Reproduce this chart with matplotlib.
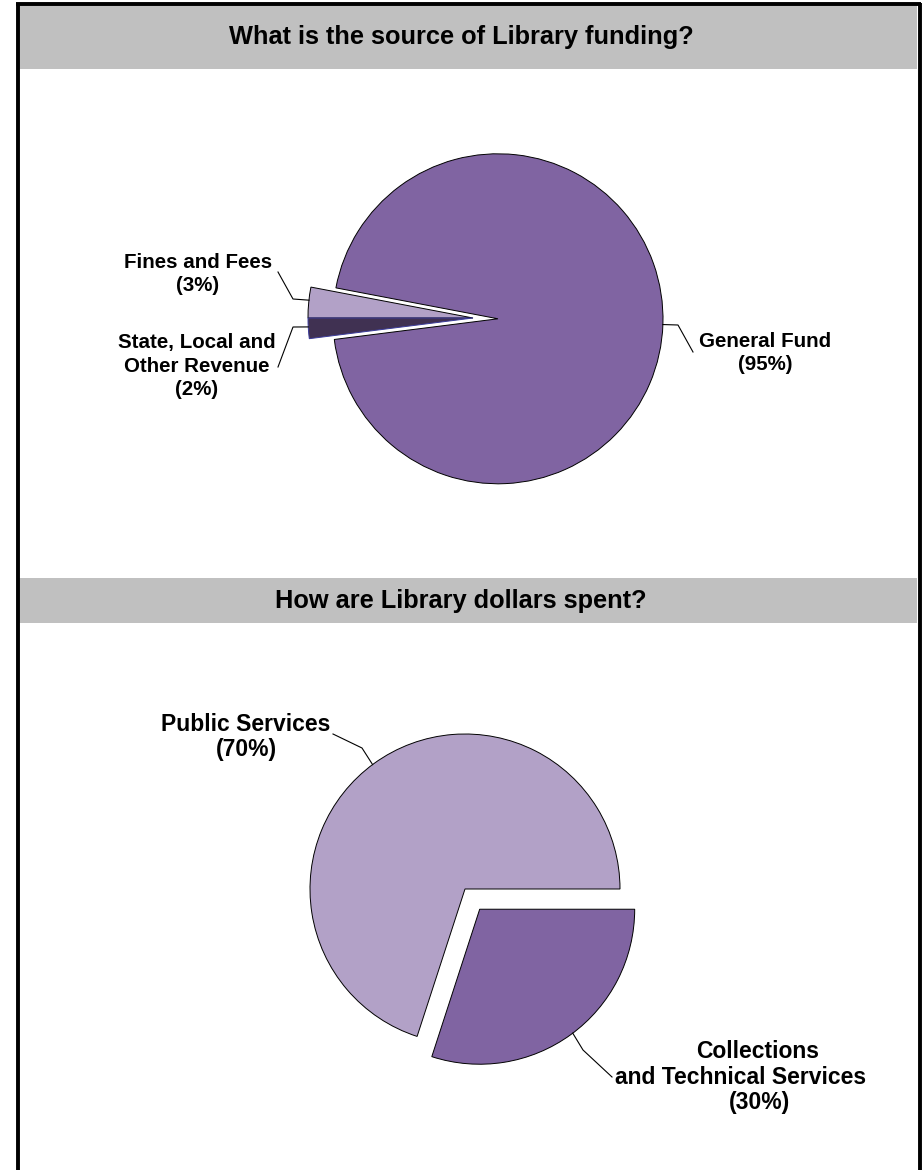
import matplotlib
matplotlib.use("Agg")
import matplotlib.pyplot as plt
import matplotlib.patches as mpatches
import numpy as np

plt.rcParams["font.family"] = ["Liberation Sans", "DejaVu Sans"]
plt.rcParams["font.weight"] = "bold"

PURPLE, LAVENDER, DARK, GREY = "#8064A2", "#B2A1C7", "#403152", "#C0C0C0"

# ---- data -------------------------------------------------------------
fund_labels = ["Fines and Fees", "State, Local and\nOther Revenue", "General Fund"]
fund_pct = [3, 2, 95]
fund_colors = [LAVENDER, DARK, PURPLE]

spend_labels = ["Public Services", "Collections\nand Technical Services"]
spend_pct = [70, 30]
spend_colors = [LAVENDER, PURPLE]

W, H = 923, 1170
fig = plt.figure(figsize=(W / 100, H / 100), dpi=100)
ax = fig.add_axes([0, 0, 1, 1])


def Y(y):  # image row -> data y
    return H - y


# ---- frame + header bands ---------------------------------------------
ax.add_patch(mpatches.Rectangle((19, Y(69)), 898, 64, facecolor=GREY, edgecolor="none"))
ax.add_patch(mpatches.Rectangle((19, Y(623)), 898, 45, facecolor=GREY, edgecolor="none"))
ax.plot([17.5, 17.5], [Y(3), 0], color="black", lw=2.8, solid_capstyle="butt")
ax.plot([919.5, 919.5], [Y(3), 0], color="black", lw=2.8, solid_capstyle="butt")
ax.plot([16, 921], [Y(3.5), Y(3.5)], color="black", lw=2.8, solid_capstyle="butt")

ax.text(461, Y(37), "What is the source of Library funding?", ha="center", va="center",
        fontsize=18.3, fontweight="bold")
ax.text(461, Y(601), "How are Library dollars spent?", ha="center", va="center",
        fontsize=18.3, fontweight="bold")

# ---- pie 1: funding ---------------------------------------------------
w1, _ = ax.pie(fund_pct, colors=fund_colors, startangle=169.2, counterclock=True,
               radius=165, center=(473, Y(318)), explode=[0, 0, 25],
               wedgeprops=dict(edgecolor="black", linewidth=0.7))
w1[1].set_edgecolor("#3b3b9a")


def leader(wedge, ang, elbow, end):
    cx, cy = wedge.center
    r = wedge.r
    a = np.deg2rad(ang)
    p0 = (cx + r * np.cos(a), cy + r * np.sin(a))
    ax.plot([p0[0], elbow[0], end[0]], [p0[1], Y(elbow[1]), Y(end[1])],
            color="black", lw=0.8)


leader(w1[2], -2.0, (678, 325), (693, 352))
ax.text(765, Y(353), f"{fund_labels[2]}\n({fund_pct[2]}%)", ha="center", va="center",
        fontsize=14.8, linespacing=1.3)
leader(w1[0], 173.8, (293, 299), (278, 272))
ax.text(198, Y(274), f"{fund_labels[0]}\n({fund_pct[0]}%)", ha="center", va="center",
        fontsize=14.8, linespacing=1.3)
leader(w1[1], 183.1, (293, 327), (278, 367))
ax.text(197, Y(366), f"{fund_labels[1]}\n({fund_pct[1]}%)", ha="center", va="center",
        fontsize=14.8, linespacing=1.3)

# ---- pie 2: spending --------------------------------------------------
w2, _ = ax.pie(spend_pct, colors=spend_colors, startangle=0, counterclock=True,
               radius=155, center=(465, Y(889)), explode=[0, 25],
               wedgeprops=dict(edgecolor="black", linewidth=0.7))

leader(w2[0], 126.6, (362, 748), (333, 734))
ax.text(246, Y(737), f"{spend_labels[0]}\n({spend_pct[0]}%)", ha="center", va="center",
        fontsize=16.5, linespacing=1.15)
leader(w2[1], -53.1, (583, 1050), (612, 1077))
l1, l2 = spend_labels[1].split("\n")
ax.text(758, Y(1051), l1, ha="center", va="center", fontsize=16.5)
ax.text(741, Y(1077), l2, ha="center", va="center", fontsize=16.5)
ax.text(760, Y(1103), f"({spend_pct[1]}%)", ha="center", va="center", fontsize=16.5)

ax.set_xlim(0, W)
ax.set_ylim(0, H)
ax.set_aspect("auto")
ax.axis("off")

fig.savefig("out.png", dpi=100, facecolor="white")
